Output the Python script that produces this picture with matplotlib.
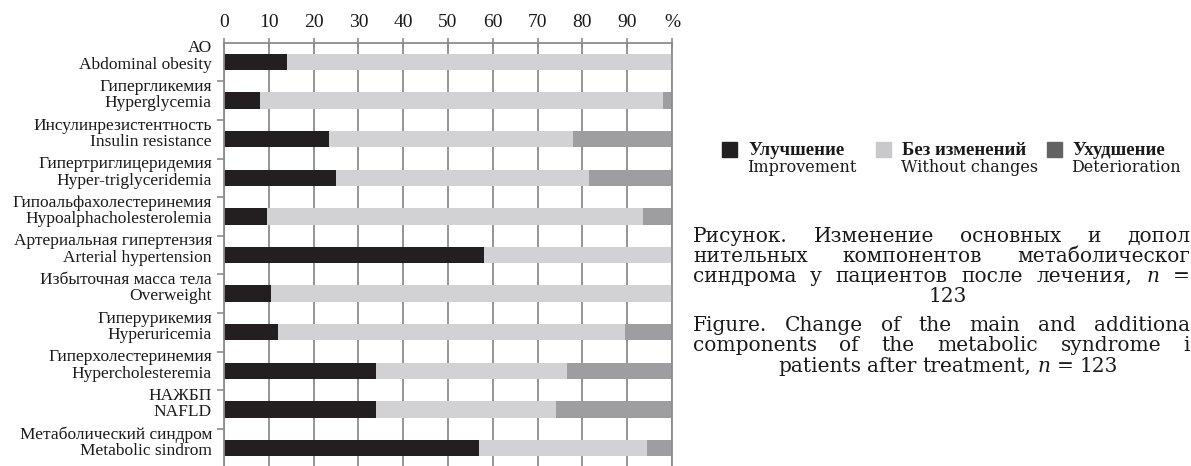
import numpy as np
import matplotlib.pyplot as plt
from matplotlib.patches import Rectangle

# components of the metabolic syndrome, share of patients (%) after treatment
labels_ru = [
    "АО", "Гипергликемия", "Инсулинрезистентность", "Гипертриглицеридемия",
    "Гипоальфахолестеринемия", "Артериальная гипертензия", "Избыточная масса тела",
    "Гиперурикемия", "Гиперхолестеринемия", "НАЖБП", "Метаболический синдром",
]
labels_en = [
    "Abdominal obesity", "Hyperglycemia", "Insulin resistance", "Hyper-triglyceridemia",
    "Hypoalphacholesterolemia", "Arterial hypertension", "Overweight",
    "Hyperuricemia", "Hypercholesteremia", "NAFLD", "Metabolic sindrom",
]
improvement = [14, 8, 23.5, 25, 9.5, 58, 10.5, 12, 34, 34, 57]
no_change = [86, 90, 54.5, 56.5, 84, 42, 89.5, 77.5, 42.5, 40, 37.5]
deterioration = [0, 2, 22, 18.5, 6.5, 0, 0, 10.5, 23.5, 26, 5.5]

tick_values = [0, 10, 20, 30, 40, 50, 60, 70, 80, 90, 100]
tick_labels = ["0", "10", "20", "30", "40", "50", "60", "70", "80", "90", "%"]

series_ru = ["Улучшение", "Без изменений", "Ухудшение"]
series_en = ["Improvement", "Without changes", "Deterioration"]
bar_colors = ["#231f20", "#d2d2d4", "#9e9ea0"]
legend_colors = ["#231f20", "#c9c9cb", "#626264"]

W, H = 1191, 466
SERIF = "Liberation Serif"
WIDE = "DejaVu Serif"
GRID = "#8c8c8c"

fig = plt.figure(figsize=(W / 100, H / 100), dpi=100)

# axes placed in pixel terms: x from 224 to 672, top at 42.7, 38.6 px per row
n = len(labels_ru)
top_px, row_px = 42.7, 38.6
ax = fig.add_axes([224 / W, 1 - (top_px + n * row_px) / H, 448 / W, n * row_px / H])

y = np.arange(n)
left = np.zeros(n)
for vals, col in zip([improvement, no_change, deterioration], bar_colors):
    ax.barh(y, vals, left=left, height=0.42, color=col, zorder=2)
    left += np.array(vals)

ax.set_xlim(0, 100)
ax.set_ylim(n - 0.5, -0.5)
ax.xaxis.tick_top()
ax.set_xticks(tick_values, tick_labels, fontfamily=SERIF, fontsize=14)
ax.tick_params(axis="x", direction="inout", length=7, width=1.2, color=GRID,
               pad=5, labelcolor="#1a1a1a")
ax.set_yticks(np.arange(n - 1) + 0.5, [])
ax.tick_params(axis="y", direction="out", length=5, width=1.2, color=GRID)
ax.xaxis.grid(True, color=GRID, lw=1.3)
ax.set_axisbelow(True)
for side in ["top", "left", "right"]:
    ax.spines[side].set_color(GRID)
    ax.spines[side].set_linewidth(1.3)
ax.spines["bottom"].set_visible(False)

# two-line category labels, sitting a little above the bar centre
for i in range(n):
    ax.text(-0.027, i - 0.14, labels_ru[i] + "\n" + labels_en[i],
            transform=ax.get_yaxis_transform(), ha="right", va="center",
            multialignment="right", fontfamily=SERIF, fontsize=12.5,
            linespacing=1.02, color="#1a1a1a")

# legend drawn by hand so the square sits next to the first line
sq_x = [722, 876, 1047]
txt_x = [748, 902, 1072]
for sx, tx, c, ru, en in zip(sq_x, txt_x, legend_colors, series_ru, series_en):
    fig.patches.append(Rectangle((sx / W, 1 - 157 / H), 15 / W, 15 / H,
                                 transform=fig.transFigure, color=c))
    fig.text(tx / W, 1 - 150 / H, ru, fontfamily=SERIF, fontweight="bold",
             fontsize=13.5, va="center", color="#1a1a1a")
    fig.text((tx - 1) / W, 1 - 167 / H, en, fontfamily=WIDE,
             fontsize=11.5, va="center", color="#1a1a1a")

# caption, justified between x0 and x1; lines stop where the original is cropped
renderer = fig.canvas.get_renderer()
cap_kw = dict(fontfamily=WIDE, fontsize=14.5, va="baseline", color="#1a1a1a")
x0, x1 = 693, 1190


def place_words(words, base_y, justify=True, centre=948):
    texts = []
    for w in words:
        style = "normal"
        if isinstance(w, tuple):
            w, style = w
        texts.append(fig.text(0, 1 - base_y / H, w, fontstyle=style, **cap_kw))
    widths = [t.get_window_extent(renderer).width for t in texts]
    if justify:
        gap = (x1 - x0 - sum(widths)) / (len(words) - 1)
        start = x0
    else:
        gap = 6
        total = sum(widths) + gap * (len(words) - 1)
        start = centre - total / 2
    pos = start
    for t, wd in zip(texts, widths):
        t.set_x(pos / W)
        pos += wd + gap


place_words(["Рисунок.", "Изменение", "основных", "и", "допол"], 242)
place_words(["нительных", "компонентов", "метаболическог"], 262)
place_words(["синдрома", "у", "пациентов", "после", "лечения,", ("n", "italic"), "="], 282)
place_words(["123"], 302, justify=False)
place_words(["Figure.", "Change", "of", "the", "main", "and", "additiona"], 331)
place_words(["components", "of", "the", "metabolic", "syndrome", "i"], 351)
place_words(["patients", "after", "treatment,", ("n", "italic"), "=", "123"], 372, justify=False)

fig.savefig("out.png", dpi=100)
